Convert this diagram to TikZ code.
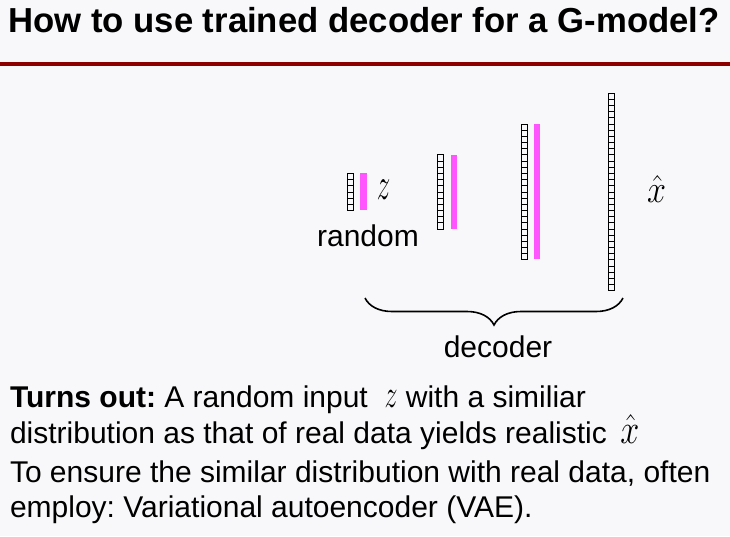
\documentclass[tikz,border=0pt]{standalone}
\usepackage{graphicx}
\usepackage{fontspec}
\setmainfont{Liberation Sans}
\usetikzlibrary{decorations.pathreplacing}
\definecolor{bg}{RGB}{248,248,250}
\definecolor{rulered}{RGB}{140,0,0}
\definecolor{pinkbar}{RGB}{255,85,255}
\frenchspacing
\newcommand{\mzdiag}{\resizebox{13.5pt}{19.5pt}{$z$}}
\newcommand{\mxdiag}{\resizebox{19pt}{27pt}{$\hat{x}$}}
\newcommand{\mzbody}{\resizebox{13pt}{17pt}{$z$}}
\newcommand{\mxbody}{\resizebox{19pt}{29pt}{$\hat{x}$}}
\begin{document}
\begin{tikzpicture}[x=1pt,y=-1pt,
  every node/.style={inner sep=0pt,outer sep=0pt},
  cellbox/.style={draw=black,line width=1pt},
  bar/.style={fill=pinkbar,draw=none},
  body/.style={anchor=base west,font=\fontsize{30}{36}\selectfont},
  lbl/.style={font=\fontsize{30}{36}\selectfont},
  bracestyle/.style={decorate,decoration={brace,mirror,amplitude=27pt},line width=1.6pt}]
\fill[bg] (0,0) rectangle (730,536);
\useasboundingbox (0,0) rectangle (730,536);
% title
\node[anchor=base,font=\bfseries\fontsize{34.7}{40}\selectfont] (title) at (364,32) {How to use trained decoder for a G-model?};
\coordinate (ruleL) at (0,64);
\coordinate (ruleR) at (730,64);
\draw[rulered,line width=4pt] (ruleL) -- (ruleR);
% layers
\foreach \cx/\n in {350/6,440/12,524/22,611/32}{
  \pgfmathsetmacro{\top}{192-\n*6.17/2}
  \foreach \i in {1,...,\n}{
    \draw[cellbox] (\cx-3,{\top+(\i-1)*6.17}) rectangle ++(6,6.17);
  }
}
\fill[bar] (360,173) rectangle (366.5,210);
\fill[bar] (450.5,155) rectangle (456.5,229);
\fill[bar] (534,124) rectangle (540,259);
\node[lbl] (z) at (383.5,190) {\mzdiag};
\node[lbl] (xhat) at (656.5,188.5) {\mxdiag};
\node[lbl,anchor=base] (random) at (368,246) {random};
\coordinate (braceL) at (365,298);
\coordinate (braceR) at (623,298);
\draw[bracestyle] (braceL) -- (braceR);
\node[lbl,anchor=base] (decoder) at (498,357) {decoder};
% body text
\node[body] (l1) at (10,407) {\textbf{Turns out:} A random input\ \ \mzbody{} with a similiar};
\node[body] (l2) at (10,443) {distribution as that of real data yields realistic\ \hspace{5pt}\mxbody};
\node[body] (l3) at (10,482) {To ensure the similar distribution with real data, often};
\node[body] (l4) at (10,517) {employ: Variational autoencoder (VAE).};
\end{tikzpicture}
\end{document}
